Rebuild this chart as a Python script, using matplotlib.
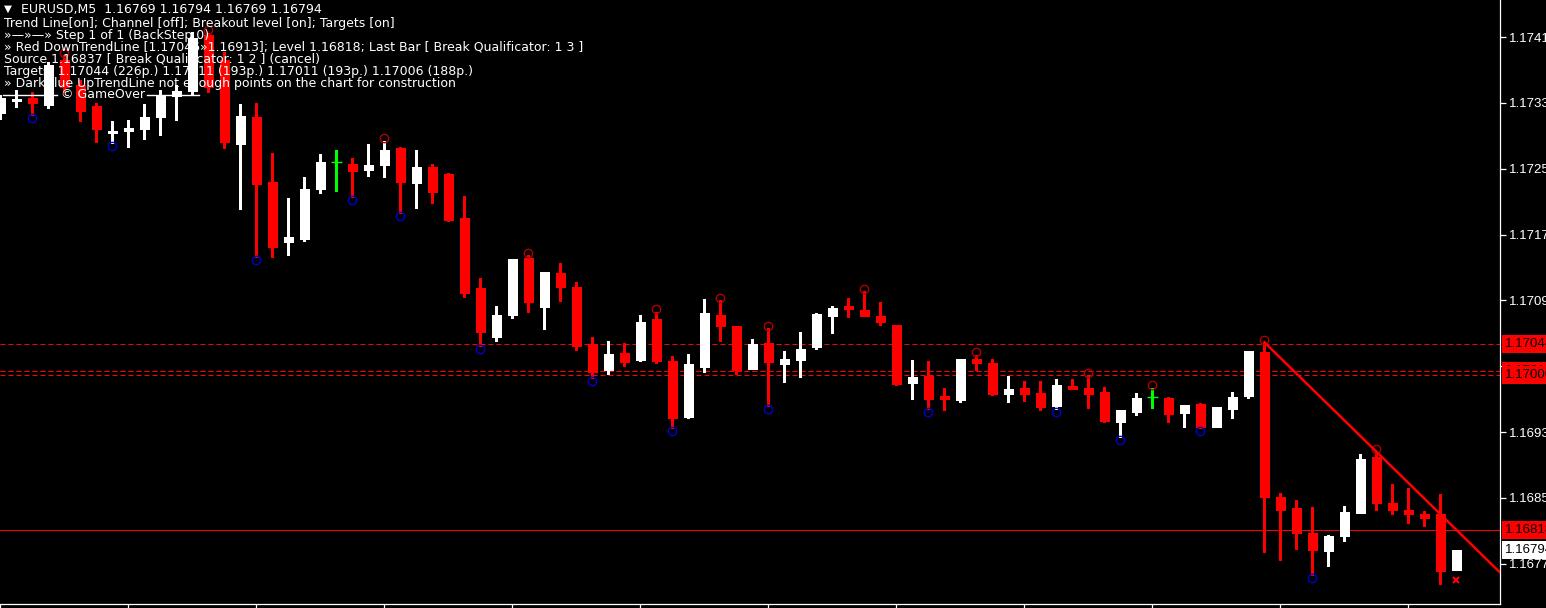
import matplotlib
matplotlib.use("Agg")
import matplotlib.pyplot as plt
import matplotlib.transforms as mtransforms
from matplotlib.lines import Line2D
import numpy as np

# EURUSD M5 bars (oldest -> newest)
opens = [1.17325, 1.17339, 1.17343, 1.17334, 1.17389, 1.17359, 1.17333, 1.17300, 1.17303, 1.17305,
         1.17320, 1.17345, 1.17351, 1.17419, 1.17389, 1.17287, 1.17320, 1.17241, 1.17168, 1.17172,
         1.17232, 1.17265, 1.17263, 1.17255, 1.17261, 1.17282, 1.17240, 1.17259, 1.17251, 1.17197,
         1.17112, 1.17053, 1.17079, 1.17148, 1.17089, 1.17130, 1.17113, 1.17044, 1.17012, 1.17033,
         1.17025, 1.17074, 1.17023, 1.16955, 1.17016, 1.17079, 1.17066, 1.17014, 1.17045, 1.17020,
         1.17025, 1.17040, 1.17078, 1.17090, 1.17085, 1.17078, 1.17067, 1.16997, 1.17005, 1.16981,
         1.16976, 1.17026, 1.17021, 1.16983, 1.16991, 1.16984, 1.16969, 1.16993, 1.16991, 1.16986,
         1.16949, 1.16961, 1.16980, 1.16978, 1.16960, 1.16971, 1.16943, 1.16965, 1.16981, 1.17034,
         1.16858, 1.16845, 1.16814, 1.16792, 1.16811, 1.16839, 1.16907, 1.16851, 1.16842, 1.16837,
         1.16837, 1.16769]
highs = [1.17347, 1.17353, 1.17350, 1.17387, 1.17395, 1.17365, 1.17337, 1.17315, 1.17316, 1.17336,
         1.17353, 1.17359, 1.17423, 1.17422, 1.17399, 1.17336, 1.17337, 1.17276, 1.17221, 1.17247,
         1.17275, 1.17280, 1.17270, 1.17287, 1.17291, 1.17283, 1.17280, 1.17263, 1.17252, 1.17224,
         1.17124, 1.17090, 1.17147, 1.17152, 1.17131, 1.17142, 1.17119, 1.17053, 1.17048, 1.17045,
         1.17079, 1.17083, 1.17029, 1.17032, 1.17099, 1.17097, 1.17066, 1.17050, 1.17063, 1.17035,
         1.17059, 1.17082, 1.17090, 1.17100, 1.17108, 1.17095, 1.17067, 1.17025, 1.17023, 1.16991,
         1.17026, 1.17031, 1.17026, 1.17005, 1.16999, 1.16999, 1.17001, 1.17001, 1.17006, 1.16992,
         1.16964, 1.16984, 1.16991, 1.16980, 1.16970, 1.16972, 1.16967, 1.16986, 1.17035, 1.17046,
         1.16863, 1.16854, 1.16846, 1.16812, 1.16847, 1.16910, 1.16913, 1.16874, 1.16869, 1.16841,
         1.16862, 1.16794]
lows = [1.17317, 1.17332, 1.17322, 1.17331, 1.17350, 1.17315, 1.17289, 1.17288, 1.17283, 1.17293,
        1.17298, 1.17316, 1.17348, 1.17350, 1.17282, 1.17208, 1.17150, 1.17150, 1.17152, 1.17169,
        1.17227, 1.17230, 1.17223, 1.17248, 1.17247, 1.17203, 1.17209, 1.17215, 1.17193, 1.17101,
        1.17042, 1.17048, 1.17076, 1.17083, 1.17062, 1.17096, 1.17037, 1.17003, 1.17008, 1.17017,
        1.17023, 1.17021, 1.16942, 1.16954, 1.17010, 1.17048, 1.17008, 1.17014, 1.16969, 1.16998,
        1.17004, 1.17038, 1.17057, 1.17077, 1.17078, 1.17067, 1.16994, 1.16977, 1.16965, 1.16964,
        1.16974, 1.17012, 1.16982, 1.16974, 1.16975, 1.16964, 1.16965, 1.16989, 1.16966, 1.16949,
        1.16931, 1.16958, 1.16966, 1.16949, 1.16943, 1.16942, 1.16943, 1.16954, 1.16978, 1.16791,
        1.16782, 1.16795, 1.16763, 1.16774, 1.16805, 1.16839, 1.16842, 1.16837, 1.16826, 1.16823,
        1.16752, 1.16769]
closes = [1.17343, 1.17342, 1.17337, 1.17383, 1.17356, 1.17327, 1.17305, 1.17303, 1.17306, 1.17320,
          1.17345, 1.17351, 1.17416, 1.17356, 1.17289, 1.17321, 1.17238, 1.17162, 1.17174, 1.17232,
          1.17265, 1.17265, 1.17254, 1.17261, 1.17280, 1.17241, 1.17259, 1.17229, 1.17195, 1.17106,
          1.17059, 1.17079, 1.17147, 1.17095, 1.17131, 1.17113, 1.17042, 1.17010, 1.17032, 1.17022,
          1.17071, 1.17023, 1.16954, 1.17020, 1.17082, 1.17066, 1.17012, 1.17044, 1.17022, 1.17026,
          1.17038, 1.17080, 1.17088, 1.17087, 1.17078, 1.17071, 1.16995, 1.17004, 1.16977, 1.16977,
          1.17026, 1.17021, 1.16983, 1.16989, 1.16983, 1.16967, 1.16994, 1.16989, 1.16983, 1.16950,
          1.16964, 1.16978, 1.16980, 1.16959, 1.16970, 1.16943, 1.16967, 1.16980, 1.17035, 1.16858,
          1.16842, 1.16814, 1.16794, 1.16811, 1.16840, 1.16904, 1.16851, 1.16842, 1.16837, 1.16833,
          1.16768, 1.16794]

# fractal markers (bar indices)
high_marks = [4, 13, 24, 33, 41, 45, 48, 54, 61, 68, 72, 79, 86]
low_marks = [2, 7, 16, 22, 25, 30, 37, 42, 48, 58, 66, 70, 75, 82]

# indicator levels
target_levels = [1.17044, 1.17011, 1.17011, 1.17006]
break_level = 1.16818
trend_pts = [(79, 1.17046), (86, 1.16913)]
cancel_mark = (91, 1.16757)
last_price = 1.16794

ytick_vals = [1.17417, 1.17337, 1.17257, 1.17177, 1.17097, 1.17017, 1.16937, 1.16857, 1.16777]

header = "EURUSD,M5  1.16769 1.16794 1.16769 1.16794"
info_lines = [
    "Trend Line[on]; Channel [off]; Breakout level [on]; Targets [on]",
    "»—»—» Step 1 of 1 (BackStep 0)",
    "» Red DownTrendLine [1.17046»1.16913]; Level 1.16818; Last Bar [ Break Qualificator: 1 3 ]",
    "Source 1.16837 [ Break Qualificator: 1 2 ] (cancel)",
    "Targets: 1.17044 (226p.) 1.17011 (193p.) 1.17011 (193p.) 1.17006 (188p.)",
    "» DarkBlue UpTrendLine not enough points on the chart for construction",
]
signature = "© GameOver"

FONT = ["Liberation Sans", "DejaVu Sans"]
INFO_FONT = ["DejaVu Sans"]
W, H = 1546, 608
fig = plt.figure(figsize=(W / 100, H / 100), dpi=100, facecolor="black")
ax = fig.add_axes([0, 4 / H, 1500 / W, 604 / H])
ax.set_facecolor("black")

o, h, l, c = (np.array(a) for a in (opens, highs, lows, closes))
x = np.arange(len(o))
cols = np.where(c > o, "white", np.where(c < o, "#ff0000", "#00ff00"))

# levels behind the candles
for lv in target_levels:
    ax.axhline(lv, color="#ff0000", lw=0.72, ls=(0, (5, 3)), zorder=1)
ax.axhline(break_level, color="#ff0000", lw=0.72, zorder=1)

ax.vlines(x, l, h, colors=cols, lw=1.0, zorder=3, antialiased=False)
ax.bar(x, np.abs(c - o), bottom=np.minimum(o, c), width=0.62, color=cols,
       edgecolor=cols, linewidth=0.72, zorder=4, antialiased=False)
doji = c == o
ax.hlines(o[doji], x[doji] - 0.34, x[doji] + 0.34, colors=cols[doji], lw=1.0, zorder=4)

# fractal circles
up_tr = mtransforms.offset_copy(ax.transData, fig=fig, x=0, y=2.5, units="dots")
dn_tr = mtransforms.offset_copy(ax.transData, fig=fig, x=0, y=-3, units="dots")
ax.plot(x[high_marks], h[high_marks], "o", mfc="none", mec="#b00000", ms=6, mew=1.0,
        transform=up_tr, zorder=5)
ax.plot(x[low_marks], l[low_marks], "o", mfc="none", mec="#0000d0", ms=6, mew=1.0,
        transform=dn_tr, zorder=5)

xmin, xmax = -0.03, -0.03 + 1500 / 16
# trend line, extended to the right edge
(x1, y1), (x2, y2) = trend_pts
slope = (y2 - y1) / (x2 - x1)
ax.plot([x1, xmax], [y1, y1 + slope * (xmax - x1)], color="#ff0000", lw=1.8, zorder=6)
ax.plot(*cancel_mark, "x", color="#ff0000", ms=5, mew=1.5, zorder=6)

ax.set_xlim(xmin, xmax)
ax.set_ylim(1.16728, 1.17462)

for s in ("top", "left"):
    ax.spines[s].set_visible(False)
for s in ("right", "bottom"):
    ax.spines[s].set_color("white")
    ax.spines[s].set_linewidth(0.9)

ax.yaxis.tick_right()
ax.set_yticks(ytick_vals)
ax.set_yticklabels([f"{v:.5f}" for v in ytick_vals], fontfamily=FONT)
ax.tick_params(axis="y", colors="white", length=4, width=0.9, pad=2.5, labelsize=9.5)
ax.set_xticks(np.arange(0, len(o), 8))
ax.tick_params(axis="x", colors="white", length=4, width=0.9, labelbottom=False)

# price labels on the scale
lbl_tr = mtransforms.blended_transform_factory(ax.transAxes, ax.transData)
for lv, bg in [(target_levels[0], "#ff0000"), (target_levels[1], "#ff0000"),
               (target_levels[3], "#ff0000"), (break_level, "#ff0000"), (last_price, "white")]:
    ax.text(1505 / 1500, lv, f"{lv:.5f}", transform=lbl_tr, ha="left", va="center",
            color="black", fontsize=9.5, fontfamily=FONT, clip_on=False, zorder=10,
            bbox=dict(boxstyle="square,pad=0.22", fc=bg, ec="none"))

# info block top-left
fig.text(4 / W, 1 - 9 / H, "▼", color="white", fontsize=7.5, va="center", fontfamily=INFO_FONT)
fig.text(21 / W, 1 - 10 / H, header, color="white", fontsize=9, va="center", fontfamily=INFO_FONT)
for i, line in enumerate(info_lines):
    fig.text(4 / W, 1 - (23 + 12 * i) / H, line, color="white", fontsize=9,
             va="center", fontfamily=INFO_FONT)
sig_y = 1 - 95 / H
fig.text(61 / W, sig_y, signature, color="white", fontsize=9, va="center", fontfamily=INFO_FONT)
for xa, xb in [(3, 57), (147, 199)]:
    fig.add_artist(Line2D([xa / W, xb / W], [sig_y, sig_y], color="white", lw=1.0,
                          transform=fig.transFigure))

fig.savefig("out.png", dpi=100, facecolor="black")
